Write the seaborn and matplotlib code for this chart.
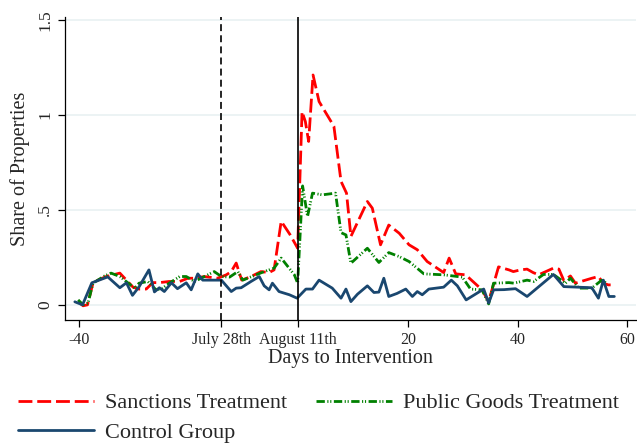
import pandas as pd
import matplotlib
matplotlib.use("Agg")
import matplotlib.pyplot as plt
import seaborn as sns

# values (days to intervention, share of properties)
sanc_x = [-40.1, -39.2, -38.4, -37.4, -36.5, -35.0, -32.5, -31.3, -30.1, -29.0, -27.7, -26.5,
          -25.3, -23.5, -21.6, -20.1, -18.9, -17.1, -14.7, -13.1, -12.2, -11.3, -10.3, -8.6,
          -6.8, -5.3, -4.4, -3.1, -1.5, -0.1, 0.7, 1.3, 1.9, 2.7, 3.8, 6.5, 7.8, 8.8, 9.6,
          12.6, 13.5, 15.0, 16.5, 18.4, 20.2, 21.7, 23.5, 26.5, 27.5, 28.7, 30.5, 33.5, 34.7,
          36.5, 38.4, 39.2, 40.5, 41.7, 42.8, 43.8, 46.5, 47.5, 48.4, 49.6, 50.5, 53.5, 54.7,
          55.6, 56.5, 57.5]
sanc_y = [0.017, -0.005, 0.0, 0.114, 0.13, 0.149, 0.167, 0.13, 0.093, 0.083, 0.083, 0.117,
          0.117, 0.123, 0.123, 0.14, 0.14, 0.149, 0.14, 0.158, 0.175, 0.22, 0.13, 0.149,
          0.175, 0.17, 0.184, 0.44, 0.37, 0.298, 1.017, 0.965, 0.86, 1.21, 1.07, 0.94, 0.65,
          0.588, 0.36, 0.544, 0.509, 0.316, 0.42, 0.377, 0.316, 0.29, 0.228, 0.17, 0.246,
          0.163, 0.158, 0.079, 0.017, 0.2, 0.184, 0.175, 0.184, 0.188, 0.17, 0.158, 0.193,
          0.188, 0.128, 0.152, 0.114, 0.14, 0.149, 0.114, 0.105, 0.105]

pub_x = [-40.1, -39.2, -38.3, -37.4, -35.3, -34.1, -32.5, -29.8, -29.0, -27.4, -25.9, -24.7,
         -23.5, -21.6, -20.4, -18.9, -15.3, -14.0, -12.5, -11.0, -10.1, -6.2, -4.4, -3.1,
         -0.7, -0.1, 0.8, 1.7, 2.6, 4.4, 6.8, 7.8, 8.7, 9.6, 12.6, 14.7, 16.5, 18.4, 20.2,
         22.9, 26.5, 29.9, 31.4, 33.5, 34.7, 35.6, 38.4, 39.3, 41.7, 42.9, 44.7, 46.5, 48.7,
         49.6, 51.1, 53.5, 55.3, 56.2]
pub_y = [0.026, 0.0, 0.009, 0.114, 0.152, 0.167, 0.149, 0.088, 0.114, 0.123, 0.079, 0.088,
         0.114, 0.149, 0.149, 0.123, 0.175, 0.149, 0.146, 0.175, 0.13, 0.175, 0.193, 0.246,
         0.158, 0.114, 0.626, 0.465, 0.588, 0.579, 0.588, 0.38, 0.368, 0.219, 0.298, 0.223,
         0.275, 0.254, 0.228, 0.163, 0.158, 0.146, 0.083, 0.079, 0.005, 0.114, 0.117, 0.114,
         0.13, 0.123, 0.16, 0.16, 0.114, 0.14, 0.088, 0.088, 0.13, 0.114]

ctrl_x = [-40.7, -39.3, -37.6, -34.7, -32.5, -31.3, -30.2, -29.0, -27.2, -26.2, -25.3, -24.4,
          -23.1, -22.0, -20.4, -19.5, -18.3, -17.4, -15.0, -14.0, -13.1, -12.2, -11.3, -10.4,
          -8.6, -7.1, -6.2, -5.3, -4.7, -3.5, -1.6, -0.2, 1.4, 2.6, 3.8, 6.2, 7.8, 8.7, 9.6,
          10.8, 12.6, 13.8, 14.7, 15.6, 16.5, 18.0, 19.6, 20.8, 21.7, 22.6, 23.8, 26.5, 27.9,
          29.0, 30.6, 33.8, 34.7, 35.6, 37.5, 39.6, 41.7, 46.5, 48.4, 53.5, 54.7, 55.6, 56.6,
          57.6]
ctrl_y = [0.016, 0.0, 0.116, 0.147, 0.09, 0.116, 0.05, 0.095, 0.184, 0.068, 0.09, 0.07,
          0.116, 0.085, 0.116, 0.079, 0.163, 0.13, 0.13, 0.13, 0.1, 0.07, 0.088, 0.09,
          0.123, 0.149, 0.1, 0.079, 0.114, 0.07, 0.053, 0.035, 0.083, 0.083, 0.13, 0.088,
          0.035, 0.083, 0.017, 0.056, 0.1, 0.065, 0.067, 0.14, 0.044, 0.06, 0.083, 0.044,
          0.07, 0.053, 0.083, 0.093, 0.13, 0.1, 0.026, 0.083, 0.01, 0.079, 0.08, 0.085,
          0.044, 0.16, 0.096, 0.09, 0.035, 0.13, 0.044, 0.044]

tick_pos = [-40, -14, 0, 20, 40, 60]
tick_lab = ['-40', 'July 28th', 'August 11th', '20', '40', '60']

sns.set_style("white")
plt.rcParams['font.family'] = ['Liberation Serif', 'DejaVu Serif']
plt.rcParams['lines.scale_dashes'] = False

sanc = pd.DataFrame({'day': sanc_x, 'share': sanc_y})
pub = pd.DataFrame({'day': pub_x, 'share': pub_y})
ctrl = pd.DataFrame({'day': ctrl_x, 'share': ctrl_y})

fig = plt.figure(figsize=(6.37, 4.43), dpi=100)
ax = fig.add_axes([0.102, 0.278, 0.896, 0.684])

for v in [0, 0.5, 1, 1.5]:
    ax.axhline(v, color='#eaf2f3', lw=1.3, zorder=0)

sns.lineplot(data=sanc, x='day', y='share', ax=ax, color='#ff0000', lw=2.0,
             estimator=None, sort=False, label='Sanctions Treatment')
sns.lineplot(data=pub, x='day', y='share', ax=ax, color='#008000', lw=2.0,
             estimator=None, sort=False, label='Public Goods Treatment')
sns.lineplot(data=ctrl, x='day', y='share', ax=ax, color='#1a476f', lw=2.0,
             estimator=None, sort=False, label='Control Group')
ax.lines[-3].set_dashes((10, 3.5))
ax.lines[-2].set_dashes((6, 1.8, 0.8, 1.3, 0.8, 1.8))

ax.axvline(-14, color='black', lw=1.2, dashes=(5, 3))
ax.axvline(0, color='black', lw=1.2)

ax.set_xlim(-42.5, 61.5)
ax.set_ylim(-0.079, 1.516)
ax.set_xticks(tick_pos)
ax.set_xticklabels(tick_lab, fontsize=11.5)
ax.set_yticks([0, 0.5, 1, 1.5])
ax.set_yticklabels(['0', '.5', '1', '1.5'], fontsize=12.5, rotation=90, va='center')
ax.tick_params(axis='both', direction='out', length=5, width=0.9, color='black', bottom=True, left=True)
ax.set_xlabel('Days to Intervention', fontsize=14.5, labelpad=1)
ax.set_ylabel('Share of Properties', fontsize=14.5, labelpad=5)

sns.despine(ax=ax)
for s in ['left', 'bottom']:
    ax.spines[s].set_color('black')
    ax.spines[s].set_linewidth(0.9)

# row-wise legend: Sanctions | Public Goods on top, Control below
h, l = ax.get_legend_handles_labels()
ax.get_legend().remove()
order = [0, 2, 1]
fig.legend([h[i] for i in order], [l[i] for i in order], ncol=2, loc='lower center',
           bbox_to_anchor=(0.5, -0.045), frameon=False, fontsize=16, handlelength=3.4,
           handletextpad=0.5, columnspacing=1.3, labelspacing=0.4)

fig.savefig('out.png', dpi=100)
